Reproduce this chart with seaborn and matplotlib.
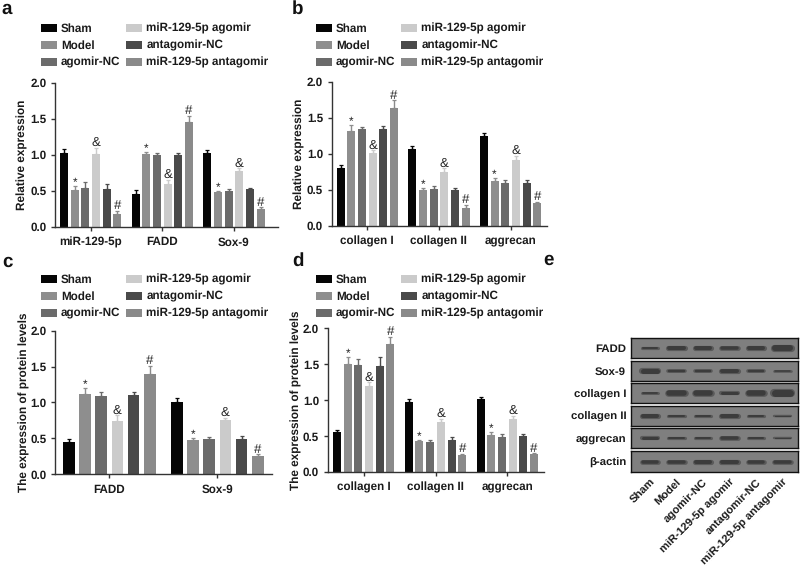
import matplotlib
matplotlib.use("Agg")
import matplotlib.pyplot as plt
import pandas as pd
import seaborn as sns

sns.set_style("white")
plt.rcParams['font.family'] = ['Liberation Sans', 'DejaVu Sans']
plt.rcParams['font.weight'] = 'bold'
plt.rcParams['text.hinting'] = 'no_hinting'
plt.rcParams['text.hinting_factor'] = 8

W, H = 800, 568
groups = ["Sham", "Model", "agomir-NC", "miR-129-5p agomir", "antagomir-NC", "miR-129-5p antagomir"]
colors = ["#050505", "#8e8e8e", "#6b6b6b", "#cbcbcb", "#4a4a4a", "#8a8a8a"]
marks = ["", "*", "", "&", "", "#"]

cats_a = ["miR-129-5p", "FADD", "Sox-9"]
vals_a = [[1.02, .46, 1.03], [.51, 1.01, .48], [.54, .99, .49], [1.01, .60, .78], [.52, .99, .52], [.18, 1.45, .25]]
errs_a = [[.06, .05, .03], [.05, .03, .02], [.08, .03, .03], [.09, .05, .03], [.07, .03, .02], [.04, .09, .02]]

cats_b = ["collagen I", "collagen II", "aggrecan"]
vals_b = [[.80, 1.06, 1.24], [1.32, .50, .62], [1.34, .51, .60], [1.01, .74, .91], [1.34, .49, .60], [1.64, .25, .31]]
errs_b = [[.04, .05, .05], [.08, .03, .04], [.03, .04, .04], [.04, .06, .06], [.04, .03, .04], [.10, .04, .02]]

cats_c = ["FADD", "Sox-9"]
vals_c = [[.45, 1.01], [1.12, .48], [1.09, .49], [.74, .75], [1.10, .49], [1.39, .26]]
errs_c = [[.04, .05], [.08, .02], [.05, .03], [.08, .04], [.04, .04], [.12, .02]]

cats_d = ["collagen I", "collagen II", "aggrecan"]
vals_d = [[.55, .98, 1.02], [1.50, .43, .51], [1.49, .42, .49], [1.19, .70, .74], [1.48, .45, .50], [1.78, .23, .25]]
errs_d = [[.04, .04, .03], [.10, .02, .04], [.08, .03, .04], [.06, .04, .04], [.12, .04, .03], [.10, .02, .01]]

blot_rows = ["FADD", "Sox-9", "collagen I", "collagen II", "aggrecan", "β-actin"]
blot_thick = [
    [2.0, 4.0, 4.0, 3.5, 4.0, 6.0],
    [5.0, 2.5, 2.5, 4.0, 2.5, 1.5],
    [1.8, 5.5, 5.5, 3.0, 5.5, 7.0],
    [4.0, 2.0, 2.0, 4.0, 2.0, 1.2],
    [3.0, 2.0, 2.0, 3.5, 2.0, 1.2],
    [3.5, 3.5, 4.0, 4.0, 3.5, 3.5],
]

fig = plt.figure(figsize=(W / 100, H / 100), dpi=100, facecolor="white")


def axes_px(x0, y_top, x1, y_bot):
    return fig.add_axes([x0 / W, 1 - y_bot / H, (x1 - x0) / W, (y_bot - y_top) / H])


def panel(box, cats, vals, errs, ylabel, ylab_x, legend_xy, col_gap, first_center, spacing, bar_frac, gap):
    x0, y_top, x1, y_bot = box
    ax = axes_px(*box)
    df = pd.DataFrame([
        {"cat": c, "group": g, "value": vals[i][j]}
        for i, g in enumerate(groups) for j, c in enumerate(cats)
    ])
    sns.barplot(data=df, x="cat", y="value", hue="group", order=cats, hue_order=groups,
                palette=colors, width=bar_frac, gap=gap, saturation=1, errorbar=None,
                linewidth=0, ax=ax)
    handles, labels = ax.get_legend_handles_labels()
    for i, cont in enumerate(list(ax.containers)):
        for j, p in enumerate(cont.patches):
            xc = p.get_x() + p.get_width() / 2
            top = p.get_height() + errs[i][j]
            ax.errorbar(xc, p.get_height(), yerr=[[0], [errs[i][j]]], color=colors[i],
                        capsize=1.6, elinewidth=1.0, capthick=0.9, zorder=3)
            if marks[i]:
                off = -0.035 if marks[i] == "*" else -0.015
                ax.text(xc, top + off, marks[i], ha="center", va="bottom", color="#222222",
                        fontsize=9.5 if marks[i] != "*" else 8.5, fontweight="normal")
    ax.set_xlim((x0 - first_center) / spacing, (x1 - first_center) / spacing)
    ax.set_ylim(0, 2)
    ax.set_yticks([0, .5, 1, 1.5, 2], ["0.0", "0.5", "1.0", "1.5", "2.0"])
    ax.set_xlabel("")
    ax.set_ylabel(ylabel, fontsize=8.5, fontweight="bold", color="#1a1a1a")
    ax.yaxis.set_label_coords((ylab_x + 5 - x0) / (x1 - x0), 0.5)
    ax.tick_params(axis="both", length=3.2, width=1, color="#333333", labelsize=8.4,
                   labelcolor="#1a1a1a", bottom=True, left=True, pad=3)
    ax.tick_params(axis="x", pad=4)
    for s in ("top", "right"):
        ax.spines[s].set_visible(False)
    for s in ("left", "bottom"):
        ax.spines[s].set_color("#333333")
        ax.spines[s].set_linewidth(1)
    ax.legend(handles, labels, ncol=2, loc="upper left", frameon=False,
              bbox_to_anchor=(legend_xy[0] / W, 1 - legend_xy[1] / H), bbox_transform=fig.transFigure,
              borderpad=0, borderaxespad=0, handlelength=1.37, handleheight=0.7,
              handletextpad=0.34, labelspacing=0.5, columnspacing=col_gap,
              labelcolor="#1a1a1a", prop={"family": "Liberation Sans", "weight": "bold", "size": 8.4})
    return ax


panel((55, 82.7, 278, 226.7), cats_a, vals_a, errs_a, "Relative expression", 23, (41, 23), 0.5, 90.7, 71.6, .893, .25)
panel((331.7, 81.7, 547, 225.7), cats_b, vals_b, errs_b, "Relative expression", 300, (316, 23), 0.5, 367.2, 71.7, .893, .25)
panel((55, 330.7, 272, 474.3), cats_c, vals_c, errs_c, "The expression of protein levels", 25, (41, 274), 0.5, 109.3, 108, .90, .28)
panel((327.7, 328.3, 543.5, 472), cats_d, vals_d, errs_d, "The expression of protein levels", 297, (316, 274), 0.5, 363.8, 71.7, .893, .25)

# western blot strips
lanes = list(range(6))
strips = [(337.7, 358.3), (360.7, 380.7), (383.3, 403.3), (406, 426), (428.3, 448.3), (451.3, 471.7)]
for k, (row, thick, (yt, yb)) in enumerate(zip(blot_rows, blot_thick, strips)):
    ax = axes_px(631, yt, 798, yb)
    ax.set_facecolor("#7f7f7f")
    ax.set_xlim(-0.717, 5.585)
    ax.set_ylim(-1, 1)
    for lane, t in zip(lanes, thick):
        ax.plot([lane - .32, lane + .32], [0, 0], color="#5a5a5a", lw=(t + 1.2) * .72, solid_capstyle="round")
        ax.plot([lane - .28, lane + .28], [0, 0], color="#3c3c3c", lw=t * .72, solid_capstyle="round")
    ax.set_yticks([0], [row])
    ax.tick_params(axis="y", length=0, pad=3.5, labelsize=8.2, labelcolor="#1a1a1a")
    if k == 5:
        ax.set_xticks(lanes, groups, rotation=45, ha="right", rotation_mode="anchor", fontsize=8.0, color="#1a1a1a")
        ax.tick_params(axis="x", length=0, pad=4)
    else:
        ax.set_xticks([])
    for s in ax.spines.values():
        s.set_visible(True)
        s.set_color("#111111")
        s.set_linewidth(1)

for letter, x, y in [("a", 1, 9), ("b", 292, 9), ("c", 2, 262), ("d", 292, 261), ("e", 543, 260)]:
    fig.text(x / W, 1 - y / H, letter, fontsize=13.5, fontweight="bold", color="#111111", va="center", ha="left")

fig.savefig("out.png", dpi=100, facecolor="white")
